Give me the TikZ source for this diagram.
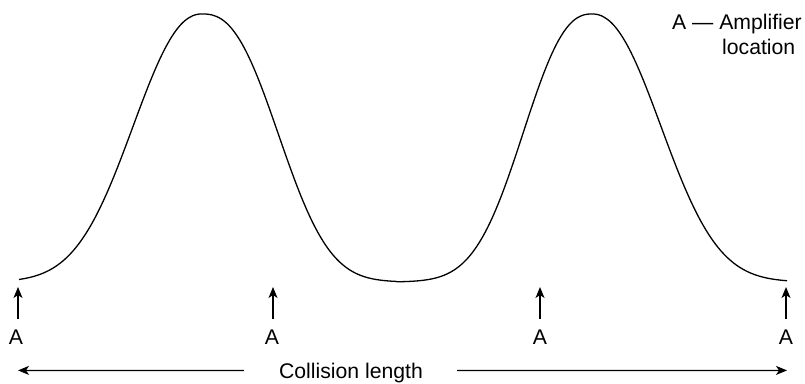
\documentclass[tikz,border=0pt]{standalone}
\usepackage{fontspec}
\setmainfont{Liberation Sans}
\usetikzlibrary{arrows.meta}
\begin{document}
\begin{tikzpicture}[x=1bp,y=-1bp,
  declare function={
    hl(\x,\c,\w,\p) = exp(-((abs(\x-\c)/\w)^\p));
  },
  lbl/.style={inner sep=0pt, font=\fontsize{21.2bp}{25bp}\selectfont},
  arr/.style={line width=1.3bp, -{Stealth[length=11bp,width=9bp,inset=3bp]}},
  wave/.style={line width=1.3bp, line join=round}]
\useasboundingbox (0,0) rectangle (805,383);
% pulse curve (two flattened bell shapes)
\draw[wave] plot[domain=19:202, samples=80, smooth] (\x, {282-268*hl(\x,202.01,91,2.2)})
  -- plot[domain=202:397, samples=80, smooth] (\x, {282-268*hl(\x,201.99,94,2.5)})
  -- plot[domain=397:592, samples=80, smooth] (\x, {282-268*hl(\x,592.01,86,2.4)})
  -- plot[domain=592:787, samples=80, smooth] (\x, {282-268*hl(\x,591.99,91,2.2)});
% amplifier labels
\node[lbl, anchor=base] (a1) at (16,344) {A};
\node[lbl, anchor=base] (a2) at (272,344) {A};
\node[lbl, anchor=base] (a3) at (540,344) {A};
\node[lbl, anchor=base] (a4) at (786,344) {A};
\coordinate (h1) at (18,287);
\coordinate (h2) at (273,287);
\coordinate (h3) at (540,287);
\coordinate (h4) at (786,287);
\draw[arr, shorten <=10bp] (a1.north -| h1) -- (h1);
\draw[arr, shorten <=10bp] (a2.north -| h2) -- (h2);
\draw[arr, shorten <=10bp] (a3.north -| h3) -- (h3);
\draw[arr, shorten <=10bp] (a4.north -| h4) -- (h4);
% collision length
\node[lbl, anchor=base, text height=15.2bp, text depth=0pt] (cl) at (351,378) {Collision length};
\coordinate (cl1) at (18,370.4);
\coordinate (cl2) at (787,370.4);
\draw[arr, shorten <=35bp] (cl.west) -- (cl1);
\draw[arr, shorten <=34bp] (cl.east) -- (cl2);
% legend
\node[lbl, anchor=base west] (leg1) at (672,29) {A — Amplifier};
\node[lbl, anchor=base west] (leg2) at (722,54) {location};
\end{tikzpicture}
\end{document}
